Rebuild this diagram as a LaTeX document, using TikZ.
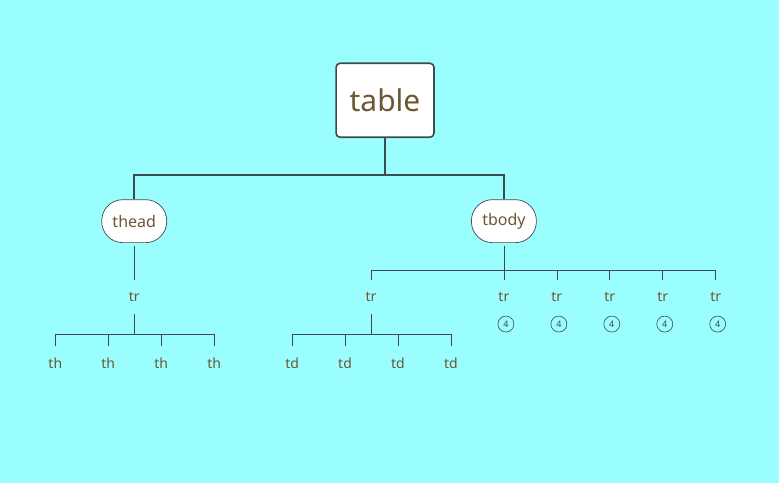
\documentclass[tikz,border=0pt]{standalone}
\usepackage{fontspec}
\setmainfont{Noto Sans}
\usepackage{tikz}

\definecolor{bgcyan}{RGB}{155,254,254}
\definecolor{txtbrown}{RGB}{108,86,52}
\definecolor{linegray}{RGB}{61,74,80}

\begin{document}
\begin{tikzpicture}[
      x = 1pt, y = -1pt,
      every node/.style = {
        text = txtbrown, inner sep = 0pt},
      rootbox/.style = {
        draw = linegray, fill = white, line width = 1.6pt,
        rounded corners = 4pt, minimum width = 98pt, minimum height = 74pt,
        font = \fontsize{30}{32}\selectfont},
      pill/.style = {
        draw = linegray, fill = white, line width = .7pt,
        rounded corners = 21pt, minimum width = 65pt, minimum height = 43pt,
        font = \fontsize{16}{18}\selectfont},
      leaf/.style = {
        minimum height = 34pt, font = \fontsize{14}{16}\selectfont},
      count/.style = {
        circle, draw = linegray, line width = .6pt, minimum size = 16pt,
        text = linegray, font = \fontsize{9}{10}\selectfont},
      every path/.style = {draw = linegray, line width = .7pt}
      ]
    \fill[bgcyan] (0,0) rectangle (779,482);
    \node[rootbox] (table) at (385,100) {table};
    \node[pill] (thead) at (134,221) {thead};
    \node[pill] (tbody) at (504,221) {tbody};
    \node[leaf] (trh) at (134,297) {tr}; % thead
    \node[leaf] (trA) at (371,297) {tr}; % tbody
    \node[leaf] (trB) at (504,297) {tr};
    \node[leaf] (trC) at (557,297) {tr};
    \node[leaf] (trD) at (610,297) {tr};
    \node[leaf] (trE) at (663,297) {tr};
    \node[leaf] (trF) at (716,297) {tr};
    \node[count] (nB) at (506,324) {4};
    \node[count] (nC) at (559,324) {4};
    \node[count] (nD) at (612,324) {4};
    \node[count] (nE) at (665,324) {4};
    \node[count] (nF) at (718,324) {4};
    \node[leaf] (th1) at (55,363) {th};
    \node[leaf] (th2) at (108,363) {th};
    \node[leaf] (th3) at (161,363) {th};
    \node[leaf] (th4) at (214,363) {th};
    \node[leaf] (td1) at (292,363) {td};
    \node[leaf] (td2) at (345,363) {td};
    \node[leaf] (td3) at (398,363) {td};
    \node[leaf] (td4) at (451,363) {td};
    \begin{scope}[every path/.style={draw = linegray, line width = 1.6pt}]
      \draw (table.south) -- ++(0,37) -| (thead.north);
      \draw (table.south) -- ++(0,37) -| (tbody.north);
    \end{scope}
    \draw[shorten <= 3pt] (thead.south) -- (trh.north);
    \draw[shorten <= 3pt] (tbody.south) -- ++(0,27) -| (trA.north);
    \draw[shorten <= 3pt] (tbody.south) -- ++(0,27) -| (trB.north);
    \draw[shorten <= 3pt] (tbody.south) -- ++(0,27) -| (trC.north);
    \draw[shorten <= 3pt] (tbody.south) -- ++(0,27) -| (trD.north);
    \draw[shorten <= 3pt] (tbody.south) -- ++(0,27) -| (trE.north);
    \draw[shorten <= 3pt] (tbody.south) -- ++(0,27) -| (trF.north);
    \draw (trh.south) -- ++(0,20) -| (th1.north);
    \draw (trh.south) -- ++(0,20) -| (th2.north);
    \draw (trh.south) -- ++(0,20) -| (th3.north);
    \draw (trh.south) -- ++(0,20) -| (th4.north);
    \draw (trA.south) -- ++(0,20) -| (td1.north);
    \draw (trA.south) -- ++(0,20) -| (td2.north);
    \draw (trA.south) -- ++(0,20) -| (td3.north);
    \draw (trA.south) -- ++(0,20) -| (td4.north);
  \end{tikzpicture}
\end{document}
